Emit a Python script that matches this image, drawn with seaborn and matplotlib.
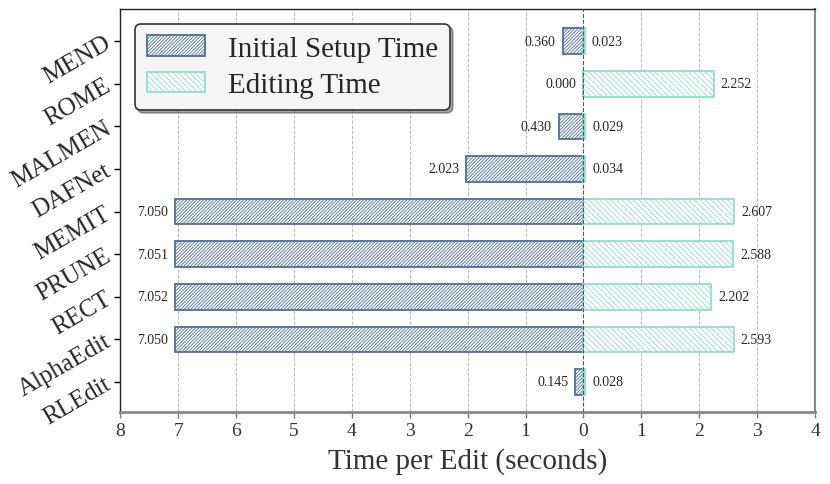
import matplotlib
matplotlib.use("Agg")
import matplotlib.pyplot as plt
import seaborn as sns
import numpy as np
import pandas as pd
from matplotlib.patches import Patch

methods = ["MEND", "ROME", "MALMEN", "DAFNet", "MEMIT", "PRUNE", "RECT", "AlphaEdit", "RLEdit"]
setup_time = [0.360, 0.000, 0.430, 2.023, 7.050, 7.051, 7.052, 7.050, 0.145]
edit_time = [0.023, 2.252, 0.029, 0.034, 2.607, 2.588, 2.202, 2.593, 0.028]
xticks = [-8, -7, -6, -5, -4, -3, -2, -1, 0, 1, 2, 3, 4]

sns.set_style("white")
plt.rcParams['font.family'] = ['Liberation Serif', 'DejaVu Serif']
plt.rcParams['hatch.linewidth'] = 0.6

df = pd.DataFrame({"method": methods,
                   "setup": -np.array(setup_time),
                   "edit": np.array(edit_time)})

c_setup = "#4f6f95"
c_edit = "#8fdfcb"
h_setup = "//////////"
h_edit = "\\\\\\\\\\\\"

fig = plt.figure(figsize=(8.3, 4.85), dpi=100)
ax = fig.add_axes([0.145, 0.149, 0.837, 0.830])

sns.barplot(data=df, x="setup", y="method", orient="h", ax=ax, width=0.6,
            color="white", edgecolor=c_setup, linewidth=1.3, saturation=1)
n1 = len(ax.patches)
sns.barplot(data=df, x="edit", y="method", orient="h", ax=ax, width=0.6,
            color="white", edgecolor=c_edit, linewidth=1.3, saturation=1)
for i, p in enumerate(ax.patches):
    if i < n1:
        p.set_hatch(h_setup)
        p.set_edgecolor(c_setup)
    else:
        p.set_hatch(h_edit)
        p.set_edgecolor(c_edit)
    p.set_facecolor("white")
    p.set_zorder(3)

for i in range(len(methods)):
    ax.annotate(f"{setup_time[i]:.3f}", xy=(-setup_time[i], i), xytext=(-5, 0),
                textcoords="offset points", ha="right", va="center", fontsize=10)
    ax.annotate(f"{edit_time[i]:.3f}", xy=(edit_time[i], i), xytext=(5, 0),
                textcoords="offset points", ha="left", va="center", fontsize=10)

ax.set_xlim(-8, 4)
ax.set_ylim(8.7, -0.75)
ax.set_xticks(xticks)
ax.set_xticklabels([str(abs(t)) for t in xticks], fontsize=14, color="#333333")
ax.set_yticks(range(len(methods)))
ax.set_yticklabels(methods, fontsize=18, rotation=30, ha="right", va="center",
                   rotation_mode="anchor")
ax.set_ylabel("")
ax.set_xlabel("Time per Edit (seconds)", fontsize=21, color="#333333", labelpad=6)

for t in xticks:
    if t != 0:
        ax.axvline(t, color="#bbbbbb", linestyle="--", linewidth=0.7, zorder=0)
ax.axvline(0, color="#555555", linestyle="--", linewidth=0.8, zorder=4)

ax.tick_params(axis="y", direction="out", length=4, width=1, color="black", pad=4, left=True)
ax.tick_params(axis="x", direction="out", length=4, width=1, color="#777777", bottom=True)

ax.spines["left"].set_color("#222222")
ax.spines["top"].set_color("#222222")
ax.spines["right"].set_color("#888888")
ax.spines["bottom"].set_color("#888888")
ax.spines["left"].set_linewidth(1.0)
ax.spines["top"].set_linewidth(1.0)
ax.spines["right"].set_linewidth(1.5)
ax.spines["bottom"].set_linewidth(2.0)

handles = [Patch(facecolor="white", edgecolor=c_setup, hatch=h_setup, linewidth=1.3, label="Initial Setup Time"),
           Patch(facecolor="white", edgecolor=c_edit, hatch=h_edit, linewidth=1.3, label="Editing Time")]
leg = ax.legend(handles=handles, loc="upper left", fontsize=21, frameon=True, shadow=True,
                fancybox=True, framealpha=1, facecolor="#f5f5f5", edgecolor="#333333",
                borderpad=0.4, handlelength=2.0, handleheight=0.7, handletextpad=0.8,
                labelspacing=0.35)
leg.get_frame().set_linewidth(1.2)

fig.savefig("out.png", dpi=100)
